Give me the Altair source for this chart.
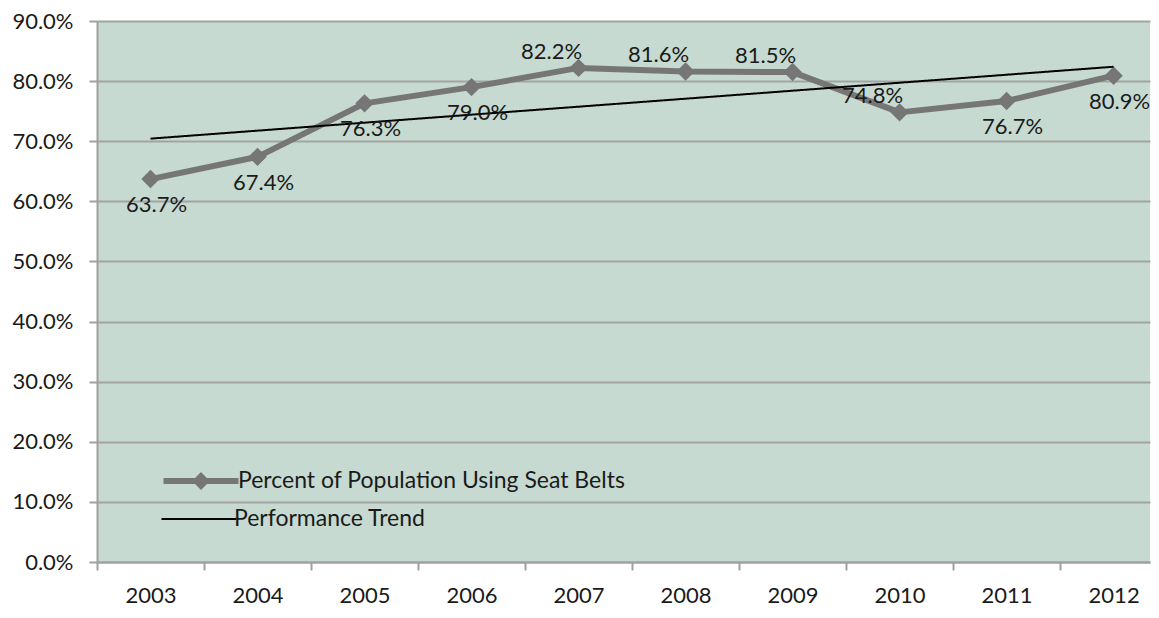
import altair as alt
import pandas as pd

years = [2003, 2004, 2005, 2006, 2007, 2008, 2009, 2010, 2011, 2012]
pct = [63.7, 67.4, 76.3, 79.0, 82.2, 81.6, 81.5, 74.8, 76.7, 80.9]
label_side = ["below", "below", "below", "below", "above", "above", "above", "above", "below", "below"]
series_main = "Percent of Population Using Seat Belts"
series_trend = "Performance Trend"
y_ticks = [0, 10, 20, 30, 40, 50, 60, 70, 80, 90]
x_tick_values = [2002.5, 2003, 2003.5, 2004, 2004.5, 2005, 2005.5, 2006, 2006.5, 2007, 2007.5,
                 2008, 2008.5, 2009, 2009.5, 2010, 2010.5, 2011, 2011.5, 2012]

df = pd.DataFrame({"year": years, "pct": pct, "side": label_side})
df["series"] = series_main

GRAY = "#767676"
FONT = "Lato"
TXT = "#1a1a1a"
FS = 23

xs = alt.Scale(domain=[2002.5, 2012.34], nice=False, zero=False)
ys = alt.Scale(domain=[0, 90], nice=False)

x_axis = alt.Axis(
    values=x_tick_values, title=None, grid=False,
    labelExpr="datum.value % 1 === 0 ? '' + datum.value : ''",
    labelOverlap=False, labelFlush=False,
    tickOpacity={"condition": {"test": "datum.value % 1 !== 0", "value": 1}, "value": 0},
    tickSize=8, tickColor="#a0a0a0", tickWidth=2,
    domainColor="#a0a0a0", domainWidth=2,
    labelFontSize=22, labelFont=FONT, labelColor=TXT, labelPadding=15,
)
y_axis = alt.Axis(
    values=y_ticks, title=None, grid=True, gridColor="#a3a3a3", gridWidth=2,
    labelExpr="format(datum.value, '.1f') + '%'",
    tickSize=8, tickColor="#a0a0a0", tickWidth=2,
    domainColor="#a0a0a0", domainWidth=2,
    labelFontSize=22, labelFont=FONT, labelColor=TXT, labelPadding=16,
)

legend_main = alt.Legend(
    title=None, orient="none", legendX=82, legendY=438, padding=0,
    symbolType="M-2,0H2M0,-0.25L0.25,0L0,0.25L-0.25,0Z", symbolSize=1406,
    symbolStrokeWidth=6, symbolStrokeColor=GRAY, labelOffset=15,
    labelFontSize=FS, labelFont=FONT, labelColor=TXT, labelLimit=600,
)
legend_trend = alt.Legend(
    title=None, orient="none", legendX=82, legendY=478, padding=0,
    symbolType="M-2,0H2", symbolSize=1406,
    symbolStrokeWidth=2, symbolStrokeColor="#000000", labelOffset=15,
    labelFontSize=FS, labelFont=FONT, labelColor=TXT, labelLimit=600,
)

base = alt.Chart(df)

main_line = base.mark_line(strokeWidth=6, strokeJoin="round").encode(
    x=alt.X("year:Q", scale=xs, axis=x_axis),
    y=alt.Y("pct:Q", scale=ys, axis=y_axis),
    color=alt.Color("series:N", scale=alt.Scale(domain=[series_main], range=[GRAY]), legend=legend_main),
)

points = base.mark_point(shape="diamond", filled=True, size=340, color=GRAY, opacity=1).encode(
    x=alt.X("year:Q", scale=xs),
    y=alt.Y("pct:Q", scale=ys),
)

trend = base.transform_regression("year", "pct").transform_calculate(
    series="'" + series_trend + "'"
).mark_line(strokeWidth=2, color="#000000").encode(
    x=alt.X("year:Q", scale=xs),
    y=alt.Y("pct:Q", scale=ys),
    strokeDash=alt.StrokeDash("series:N", scale=alt.Scale(domain=[series_trend], range=[[1, 0]]),
                              legend=legend_trend),
)

lbl = base.transform_calculate(label="format(datum.pct, '.1f') + '%'")

labels_below = lbl.transform_filter("datum.side === 'below'").mark_text(
    dx=6, dy=26, fontSize=22, font=FONT, color=TXT
).encode(x=alt.X("year:Q", scale=xs), y=alt.Y("pct:Q", scale=ys), text="label:N")

labels_above = lbl.transform_filter("datum.side === 'above'").mark_text(
    dx=-27, dy=-16, fontSize=22, font=FONT, color=TXT
).encode(x=alt.X("year:Q", scale=xs), y=alt.Y("pct:Q", scale=ys), text="label:N")

chart = alt.layer(main_line, points, trend, labels_below, labels_above).properties(
    width=1053, height=541,
    autosize=alt.AutoSizeParams(type="none"),
    padding={"left": 89, "top": 13, "right": 1, "bottom": 48},
    background="#ffffff",
).configure_view(fill="#c6dad1", strokeWidth=0)

chart.save("out.html", embed_options={"renderer": "svg", "actions": False})
